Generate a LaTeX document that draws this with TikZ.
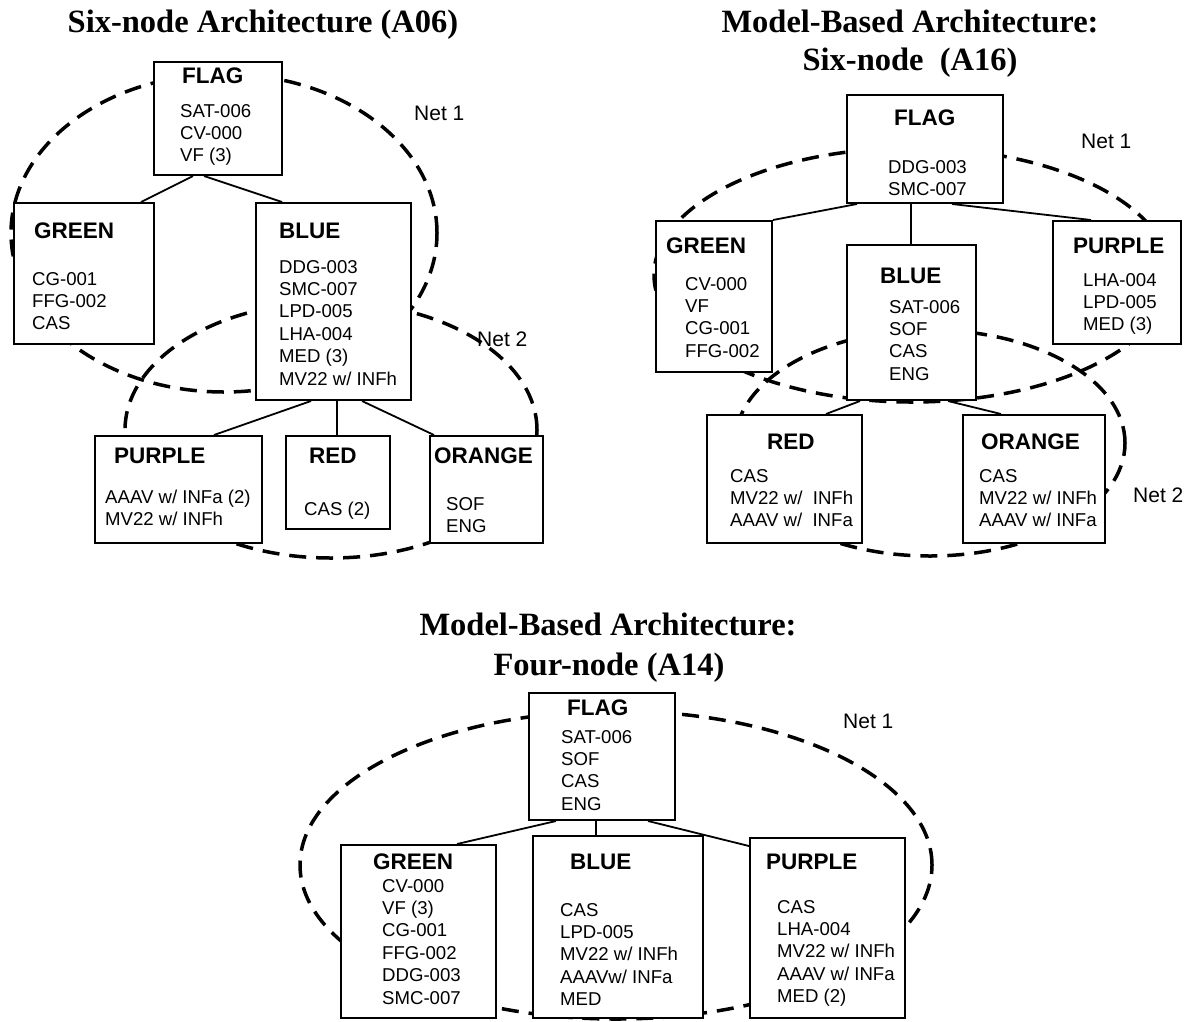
\documentclass[tikz,border=0pt]{standalone}
\usepackage{fontspec}
\setmainfont{Liberation Serif}
\newfontfamily\arialf{Liberation Sans}
\usetikzlibrary{calc}
\tikzset{
  box/.style={draw, line width=2pt, fill=white, inner sep=0pt, anchor=north west},
  ttl/.style={font=\fontsize{32.5}{38}\selectfont\bfseries, anchor=base, inner sep=0pt},
  hdr/.style={font=\arialf\fontsize{22.5}{26}\selectfont\bfseries, anchor=base west, inner sep=0pt},
  itm/.style={font=\arialf\fontsize{18.6}{22}\selectfont, anchor=base west, inner sep=0pt},
  netlbl/.style={font=\arialf\fontsize{21}{25}\selectfont, anchor=base west, inner sep=0pt},
  net/.style={draw, line width=3.5pt, dash pattern=on 17pt off 10pt},
  link/.style={line width=1.8pt},
}
\newcommand\mkbox[5]{\node[box, minimum width={#4-#2}, minimum height={#5-#3}] (#1) at (#2,#3) {};}
\newcommand\mkitems[4]{\foreach \t [count=\i] in {#4} {\node[itm] (#1\i) at (#2, {#3+22.4*(\i-1)}) {\t};}}
\begin{document}
\begin{tikzpicture}[x=1pt,y=-1pt]
\useasboundingbox (0,0) rectangle (1193,1021);
\fill[white] (0,0) rectangle (1193,1021);

% ---------------- Top-left: Six-node Architecture (A06)
\node[ttl] (tA) at (263,32) {Six-node Architecture (A06)};
\draw[net] (224,233) ellipse [x radius=213pt, y radius=159pt];
\draw[net] (331,430) ellipse [x radius=206pt, y radius=128pt];
\mkbox{fA}{153}{61}{281}{174}
\mkbox{gA}{12.5}{202}{153}{343}
\mkbox{bA}{255}{202}{410}{399}
\mkbox{pA}{94}{435}{261}{542}
\mkbox{rA}{285}{435}{389}{528}
\mkbox{oA}{429}{435}{542}{542}
\draw[link] ($(fA.south west)+(40,0)$) -- ($(gA.north west)+(128.5,0)$);
\draw[link] ($(fA.south west)+(51,0)$) -- ($(bA.north west)+(27,0)$);
\draw[link] ($(bA.south west)+(56,0)$) -- ($(pA.north west)+(120,0)$);
\draw[link] ($(bA.south west)+(82,0)$) -- ($(rA.north west)+(52,0)$);
\draw[link] ($(bA.south west)+(107,0)$) -- ($(oA.north west)+(5,0)$);
\node[hdr] (hfA) at (182,83) {FLAG};
\mkitems{ifA}{180}{117}{SAT-006,CV-000,VF (3)}
\node[hdr] (hgA) at (34,238) {GREEN};
\mkitems{igA}{32}{285}{CG-001,FFG-002,CAS}
\node[hdr] (hbA) at (279,238) {BLUE};
\mkitems{ibA}{279}{273}{DDG-003,SMC-007,LPD-005,LHA-004,MED (3),MV22 w/ INFh}
\node[hdr] (hpA) at (114,463) {PURPLE};
\mkitems{ipA}{105}{503}{AAAV w/ INFa (2),MV22 w/ INFh}
\node[hdr] (hrA) at (309,463) {RED};
\mkitems{irA}{304}{515}{CAS (2)}
\node[hdr] (hoA) at (434,463) {ORANGE};
\mkitems{ioA}{446}{510}{SOF,ENG}
\node[netlbl] (n1A) at (414,120) {Net 1};
\node[netlbl] (n2A) at (477,346) {Net 2};

% ---------------- Top-right: Model-Based Architecture: Six-node (A16)
\node[ttl] (tB1) at (910,32) {Model-Based Architecture:};
\node[ttl] (tB2) at (910,70) {Six-node\ \ (A16)};
\draw[net] (912,275) ellipse [x radius=258pt, y radius=127pt];
\draw[net] (930,443) ellipse [x radius=195pt, y radius=113pt];
\mkbox{fB}{846}{94}{1002}{202}
\mkbox{gB}{655}{220}{771}{371}
\mkbox{bB}{846}{244}{975}{399}
\mkbox{pB}{1052}{220}{1180}{343}
\mkbox{rB}{706}{414}{861}{542}
\mkbox{oB}{962}{414}{1104}{542}
\draw[link] ($(fB.south west)+(11,0)$) -- (gB.north east);
\draw[link] ($(fB.south west)+(65,0)$) -- ($(bB.north west)+(65,0)$);
\draw[link] ($(fB.south west)+(106,0)$) -- ($(pB.north west)+(39,0)$);
\draw[link] ($(bB.south west)+(14,0)$) -- ($(rB.north west)+(120,0)$);
\draw[link] ($(bB.south west)+(102,0)$) -- ($(oB.north west)+(39,0)$);
\node[hdr] (hfB) at (894,125) {FLAG};
\mkitems{ifB}{888}{173}{DDG-003,SMC-007}
\node[hdr] (hgB) at (666,253) {GREEN};
\mkitems{igB}{685}{290}{CV-000,VF,CG-001,FFG-002}
\node[hdr] (hbB) at (880,283) {BLUE};
\mkitems{ibB}{889}{313}{SAT-006,SOF,CAS,ENG}
\node[hdr] (hpB) at (1073,253) {PURPLE};
\mkitems{ipB}{1083}{286}{LHA-004,LPD-005,MED (3)}
\node[hdr] (hrB) at (767,449) {RED};
\mkitems{irB}{730}{482}{CAS,MV22 w/\ \ INFh,AAAV w/\ \ INFa}
\node[hdr] (hoB) at (981,449) {ORANGE};
\mkitems{ioB}{979}{482}{CAS,MV22 w/ INFh,AAAV w/ INFa}
\node[netlbl] (n1B) at (1081,148) {Net 1};
\node[netlbl] (n2B) at (1133,502) {Net 2};

% ---------------- Bottom: Model-Based Architecture: Four-node (A14)
\node[ttl] (tC1) at (608,635) {Model-Based Architecture:};
\node[ttl] (tC2) at (609,675) {Four-node (A14)};
\draw[net] (616,865) ellipse [x radius=316pt, y radius=154pt];
\mkbox{fC}{528}{692}{674}{819}
\mkbox{gC}{340}{844}{495}{1017}
\mkbox{bC}{532}{835}{702}{1017}
\mkbox{pC}{749}{837}{904}{1017}
\draw[link] ($(fC.south west)+(28,0)$) -- ($(gC.north west)+(117,0)$);
\draw[link] ($(fC.south west)+(68,0)$) -- ($(bC.north west)+(64,0)$);
\draw[link] ($(fC.south west)+(120,0)$) -- ($(pC.north west)+(0,9)$);
\node[hdr] (hfC) at (567,715) {FLAG};
\mkitems{ifC}{561}{743}{SAT-006,SOF,CAS,ENG}
\node[hdr] (hgC) at (373,869) {GREEN};
\mkitems{igC}{382}{892}{CV-000,VF (3),CG-001,FFG-002,DDG-003,SMC-007}
\node[hdr] (hbC) at (570,869) {BLUE};
\mkitems{ibC}{560}{916}{CAS,LPD-005,MV22 w/ INFh,AAAVw/ INFa,MED}
\node[hdr] (hpC) at (766,869) {PURPLE};
\mkitems{ipC}{777}{913}{CAS,LHA-004,MV22 w/ INFh,AAAV w/ INFa,MED (2)}
\node[netlbl] (n1C) at (843,728) {Net 1};
\end{tikzpicture}
\end{document}
